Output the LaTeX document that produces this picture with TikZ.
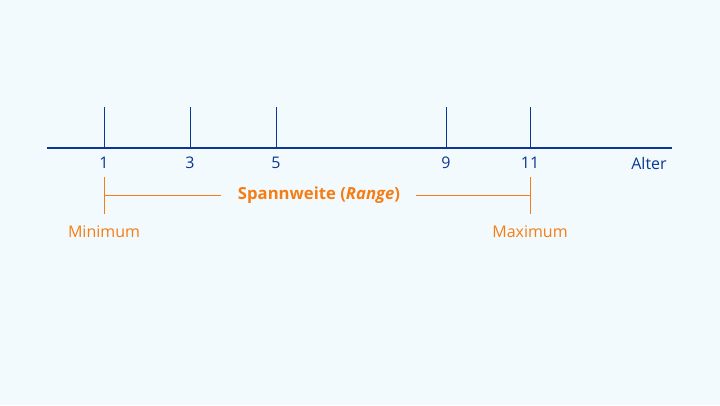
\documentclass[tikz,border=0pt]{standalone}
\usepackage{fontspec}
\setmainfont{Open Sans}
\definecolor{axisblue}{RGB}{10,55,150}
\definecolor{rangeorange}{RGB}{245,125,20}
\definecolor{bgblue}{RGB}{242,250,253}

\begin{document}
\begin{tikzpicture}[x=0.75pt,y=-0.75pt]
        \tikzstyle{every node}=[inner sep=0pt, font=\fontsize{12}{14}\selectfont]
        \tikzstyle{tick}=[axisblue, line width=0.7pt]
        \tikzstyle{ticklabel}=[text=axisblue]
        \tikzstyle{bracket}=[rangeorange, line width=0.7pt]
        \tikzstyle{rangelabel}=[text=rangeorange]
        \fill[bgblue] (0,0) rectangle (720,405);
        \useasboundingbox (0,0) rectangle (720,405);
        \coordinate (axisL) at (47,148);
        \coordinate (axisR) at (672,148);
        \draw[axisblue, line width=1.6pt] (axisL) -- (axisR);
        \foreach \val/\x in {1/104, 3/190, 5/276, 9/446, 11/530} {
            \coordinate (top\val) at (\x,107);
            \coordinate (base\val) at (\x,148);
            \draw[tick] (top\val) -- (base\val);
            \node[ticklabel] (lab\val) at (\x,163) {\val};
        }
        \node[ticklabel] (alter) at (649,163) {Alter};
        \node[rangelabel, font=\fontsize{12.5}{14}\selectfont\bfseries] (range) at (319,195) {Spannweite (\textit{Range})};
        \coordinate (minTop) at (104,177);
        \coordinate (minBot) at (104,214);
        \coordinate (minMid) at (104,195);
        \coordinate (maxTop) at (530,177);
        \coordinate (maxBot) at (530,214);
        \coordinate (maxMid) at (530,195);
        \draw[bracket] (minTop) -- (minBot);
        \draw[bracket] (maxTop) -- (maxBot);
        \draw[bracket] (minMid) -- (221,195);
        \draw[bracket] (416,195) -- (maxMid);
        \node[rangelabel] (minimum) at (104,232) {Minimum};
        \node[rangelabel] (maximum) at (530,232) {Maximum};
    \end{tikzpicture}
\end{document}
